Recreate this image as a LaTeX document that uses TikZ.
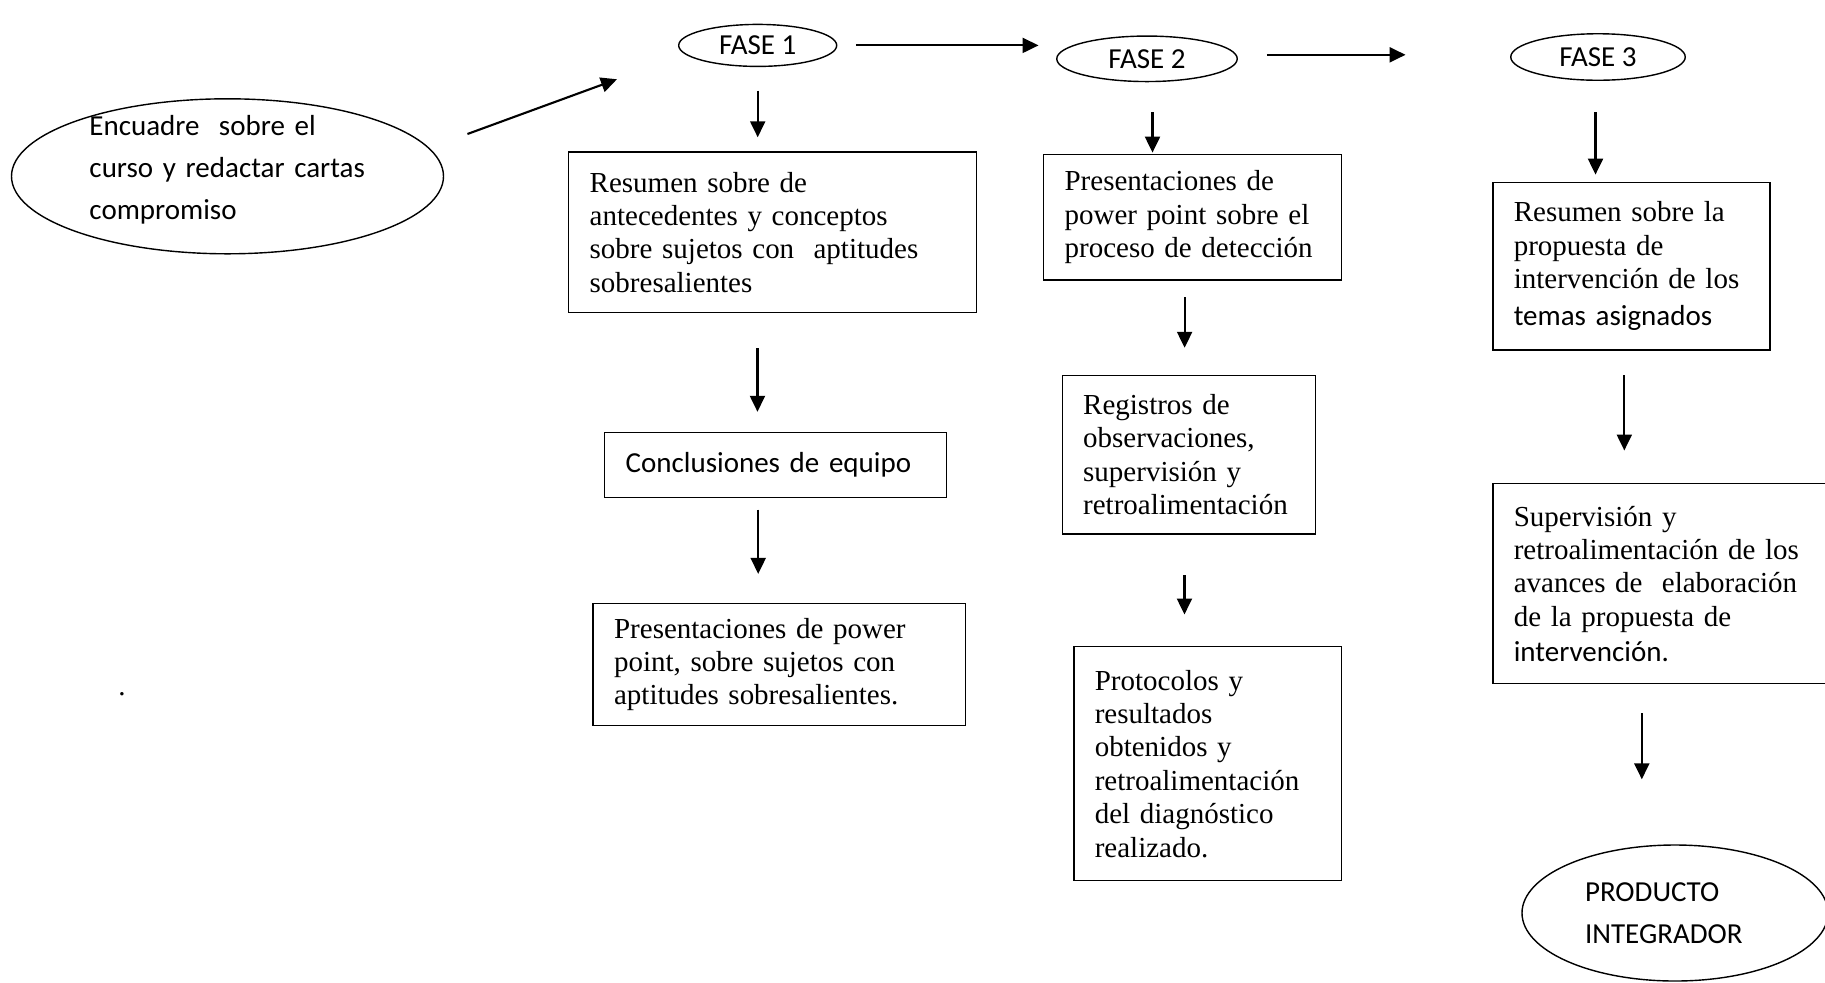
\documentclass[tikz,border=0pt]{standalone}
\usepackage{fontspec}
\setmainfont{Liberation Serif}
\setsansfont{Carlito}
\usetikzlibrary{arrows.meta, shapes.geometric}

\begin{document}
\begin{tikzpicture}[
    x=0.2mm, y=-0.2mm,
    box/.style={draw, line width=0.8pt, inner xsep=4.2mm, inner ysep=0pt,
      anchor=north west, align=left, font=\fontsize{16.5}{19}\selectfont},
    oval/.style={draw, ellipse, line width=0.8pt, inner sep=0pt, align=left,
      font=\sffamily\fontsize{16.5}{23.9}\selectfont},
    link/.style={->, line width=1.2pt},
    >={Triangle[length=3.2mm, width=3mm]}
  ]
  \path[use as bounding box, fill=white] (0,0) rectangle (1825,982);
  \clip (0,0) rectangle (1825,982);

  % ovals
  \node[oval, minimum width=86.4mm, minimum height=31mm,
    label={[font=\sffamily\fontsize{16.5}{23.9}\selectfont, text width=55.2mm,
      align=left, yshift=1.3mm]center:{Encuadre\ \ sobre el\\curso y redactar cartas\\compromiso}}]
    (encuadre) at (227.5,176.3) {};
  \node[oval, minimum width=31.6mm, minimum height=8.4mm] (fase1) at (757.7,45.4) {FASE 1};
  \node[oval, minimum width=36.1mm, minimum height=9.1mm] (fase2) at (1147,58.8) {FASE 2};
  \node[oval, minimum width=34.9mm, minimum height=9.3mm] (fase3) at (1598,57) {FASE 3};
  \node[oval, text width=36mm, minimum width=61.2mm, minimum height=27.2mm]
    (producto) at (1675,913) {PRODUCTO\\INTEGRADOR};

  % fase 1
  \node[box, text width=73.1mm, minimum height=32.1mm] (resumen) at (568,151.3)
    {Resumen sobre de\\antecedentes y conceptos\\sobre sujetos con\ \ aptitudes\\sobresalientes};
  \node[box, text width=60mm, minimum height=13mm,
    font=\sffamily\fontsize{16.5}{19}\selectfont] (conclusiones) at (604,431.8)
    {Conclusiones de equipo};
  \node[box, text width=66.1mm, minimum height=24.4mm] (presentA) at (592.4,602.9)
    {Presentaciones de power\\point, sobre sujetos con\\aptitudes sobresalientes.};

  % fase 2
  \node[box, text width=51.2mm, minimum height=25.1mm] (presentB) at (1042.9,153.6)
    {Presentaciones de\\power point sobre el\\proceso de detección};
  \node[box, text width=42.3mm, minimum height=31.7mm] (registros) at (1061.5,374.8)
    {Registros de\\observaciones,\\supervisión y\\retroalimentación};
  \node[box, text width=45.1mm, minimum height=46.8mm] (protocolos) at (1073.1,646)
    {Protocolos y\\resultados\\obtenidos y\\retroalimentación\\del diagnóstico\\realizado.};

  % fase 3
  \node[box, text width=47mm, minimum height=33.5mm] (resumenC) at (1492.1,181.6)
    {Resumen sobre la\\propuesta de\\intervención de los\\[2pt]{\sffamily temas asignados}};
  \node[box, text width=59.2mm, minimum height=40mm] (supervision) at (1492.1,483)
    {Supervisión y\\retroalimentación de los\\avances de\ \ elaboración\\de la propuesta de\\[1pt]{\sffamily intervención.}};

  \node[font=\fontsize{16.5}{19}\selectfont] (punto) at (122,693.7) {.};

  % arrows
  \draw[link, shorten <=8.1mm, shorten >=14.5mm] (encuadre.8.8) -- (fase1.187.4);
  \draw[link, shorten <=3.7mm, shorten >=3.5mm] (fase1.east) -- (fase1.east -| fase2.west);
  \draw[link, shorten <=5.8mm, shorten >=20.9mm]
    ([yshift=0.8mm]fase2.east) -- ([yshift=0.8mm]fase2.east -| fase3.west);

  \draw[link, shorten <=4.7mm, shorten >=2.8mm] (fase1.south) -- (fase1.south |- resumen.north);
  \draw[link, shorten <=7mm, shorten >=4mm]
    ([xshift=-3mm]resumen.south) -- ([xshift=-3mm]resumen.south |- conclusiones.north);
  \draw[link, shorten <=2.3mm, shorten >=5.8mm]
    ([xshift=-3.5mm]conclusiones.south) -- ([xshift=-3.5mm]conclusiones.south |- presentA.north);

  \draw[link, shorten <=6mm, shorten >=0.2mm]
    ([xshift=1.1mm]fase2.south) -- ([xshift=1.1mm]fase2.south |- presentB.north);
  \draw[link, shorten <=3.3mm, shorten >=5.4mm]
    ([xshift=-1.6mm]presentB.south) -- ([xshift=-1.6mm]presentB.south |- registros.north);
  \draw[link, shorten <=8.1mm, shorten >=6.3mm]
    ([xshift=-0.9mm]registros.south) -- ([xshift=-0.9mm]registros.south |- protocolos.north);

  \draw[link, shorten <=6.3mm, shorten >=1.4mm]
    ([xshift=-0.5mm]fase3.south) -- ([xshift=-0.5mm]fase3.south |- resumenC.north);
  \draw[link, shorten <=4.9mm, shorten >=6.5mm]
    ([xshift=-1.4mm]resumenC.south) -- ([xshift=-1.4mm]resumenC.south |- supervision.north);
  \draw[link, shorten <=5.8mm, shorten >=13mm]
    ([xshift=-4mm]supervision.south) -- ([xshift=-4mm]supervision.south |- producto.north);
\end{tikzpicture}
\end{document}
